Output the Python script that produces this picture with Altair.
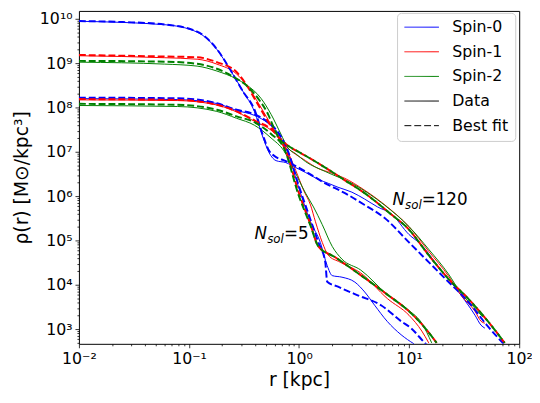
import altair as alt
import pandas as pd

# ---------------- values (log10 r [kpc], log10 rho [Msun/kpc^3]) ----------------
spin_names = ["Spin-0", "Spin-1", "Spin-2"]
spin_colors = ["blue", "red", "green"]
legend_keys = ["Spin-0", "Spin-1", "Spin-2", "Data", "Best fit"]

# N_sol = 120
n120_s0_fit_lr = [-2.0, -1.6, -1.221, -0.926, -0.747, -0.630, -0.508, -0.406, -0.329, -0.272, -0.227, -0.120, 0.059, 0.238, 0.417, 0.596, 0.775, 0.999, 1.178, 1.357, 1.536, 1.706, 1.868]
n120_s0_fit_lrho = [9.949, 9.927, 9.873, 9.711, 9.318, 8.873, 8.356, 7.956, 7.378, 7.022, 6.911, 6.789, 6.556, 6.289, 6.067, 5.800, 5.511, 4.956, 4.511, 4.067, 3.622, 3.089, 2.644]
n120_s0_dat_lr = [-2.0, -1.221, -0.926, -0.747, -0.630, -0.508, -0.406, -0.329, -0.272, -0.209, -0.120, -0.030, 0.059, 0.175, 0.265, 0.354, 0.480, 0.596, 0.713, 0.838, 0.999, 1.107, 1.268, 1.474, 1.599, 1.653, 1.688]
n120_s0_dat_lrho = [9.944, 9.867, 9.700, 9.311, 8.867, 8.356, 7.911, 7.333, 6.978, 6.800, 6.756, 6.644, 6.533, 6.378, 6.289, 6.200, 6.089, 5.933, 5.756, 5.600, 5.133, 4.911, 4.400, 3.756, 3.311, 3.089, 3.022]

n120_s1_fit_lr = [-2.0, -1.221, -0.926, -0.747, -0.568, -0.478, -0.389, -0.299, -0.209, -0.120, 0.059, 0.238, 0.417, 0.596, 0.820, 0.999, 1.178, 1.357, 1.536, 1.715, 1.868]
n120_s1_fit_lrho = [9.184, 9.149, 9.133, 9.022, 8.800, 8.511, 8.133, 7.756, 7.400, 7.178, 6.911, 6.644, 6.356, 6.067, 5.622, 5.244, 4.667, 4.133, 3.689, 3.178, 2.689]
n120_s1_dat_lr = [-2.0, -1.221, -0.926, -0.747, -0.568, -0.478, -0.389, -0.299, -0.209, -0.120, 0.059, 0.175, 0.283, 0.417, 0.596, 0.802, 0.999, 1.178, 1.357, 1.474, 1.599, 1.653, 1.688]
n120_s1_dat_lrho = [9.167, 9.122, 9.089, 8.978, 8.756, 8.511, 8.178, 7.800, 7.422, 7.133, 6.800, 6.622, 6.533, 6.400, 6.133, 5.756, 5.311, 4.756, 4.200, 3.756, 3.400, 3.178, 3.133]

n120_s2_fit_lr = [-2.0, -1.221, -0.926, -0.747, -0.594, -0.496, -0.371, -0.281, -0.227, -0.165, -0.120, 0.059, 0.238, 0.417, 0.596, 0.820, 0.999, 1.178, 1.357, 1.536, 1.715, 1.868]
n120_s2_fit_lrho = [9.051, 9.033, 8.984, 8.873, 8.689, 8.533, 8.200, 7.844, 7.533, 7.244, 7.167, 6.911, 6.644, 6.356, 6.067, 5.622, 5.244, 4.667, 4.133, 3.689, 3.178, 2.689]
n120_s2_dat_lr = [-2.0, -1.221, -0.926, -0.747, -0.568, -0.478, -0.344, -0.254, -0.165, -0.102, -0.030, 0.059, 0.238, 0.480, 0.775, 0.999, 1.178, 1.357, 1.474, 1.599, 1.671]
n120_s2_dat_lrho = [9.022, 8.978, 8.933, 8.822, 8.644, 8.511, 8.200, 7.844, 7.400, 7.089, 6.956, 6.778, 6.556, 6.289, 5.800, 5.311, 4.800, 4.244, 3.800, 3.467, 3.267]

# N_sol = 5
n5_s0_fit_lr = [-2.0, -1.105, -0.747, -0.568, -0.406, -0.281, -0.192, -0.102, -0.004, 0.104, 0.175, 0.238, 0.256, 0.354, 0.533, 0.748, 0.927, 1.017, 1.151, 1.200]
n5_s0_fit_lrho = [8.222, 8.207, 8.096, 7.949, 7.844, 7.667, 7.444, 7.022, 6.244, 5.467, 4.956, 4.511, 4.067, 3.956, 3.762, 3.533, 3.178, 3.022, 2.667, 2.560]
n5_s0_dat_lr = [-2.0, -1.105, -0.747, -0.568, -0.406, -0.281, -0.192, -0.102, -0.004, 0.104, 0.193, 0.256, 0.301, 0.390, 0.507, 0.596, 0.686, 0.802, 0.927, 1.044]
n5_s0_dat_lrho = [8.200, 8.178, 8.089, 7.933, 7.822, 7.644, 7.422, 6.978, 6.200, 5.422, 4.956, 4.429, 4.207, 4.171, 4.060, 3.838, 3.540, 3.171, 2.873, 2.667]

n5_s1_fit_lr = [-2.0, -1.105, -0.747, -0.568, -0.389, -0.254, -0.209, -0.120, -0.004, 0.104, 0.175, 0.328, 0.507, 0.802, 0.999, 1.115, 1.250]
n5_s1_fit_lrho = [8.189, 8.171, 8.060, 7.911, 7.689, 7.511, 7.400, 7.022, 6.089, 5.356, 4.867, 4.622, 4.311, 3.778, 3.400, 3.111, 2.689]
n5_s1_dat_lr = [-2.0, -1.105, -0.747, -0.568, -0.389, -0.254, -0.138, -0.030, 0.041, 0.104, 0.149, 0.211, 0.265, 0.372, 0.560, 0.802, 0.999, 1.115, 1.178]
n5_s1_dat_lrho = [8.171, 8.156, 8.056, 7.900, 7.667, 7.489, 7.178, 6.578, 6.133, 5.800, 5.422, 4.956, 4.667, 4.511, 4.267, 3.689, 3.311, 2.956, 2.689]

n5_s2_fit_lr = [-2.0, -1.105, -0.747, -0.568, -0.406, -0.254, -0.138, -0.004, 0.104, 0.175, 0.328, 0.507, 0.802, 0.999, 1.115, 1.250]
n5_s2_fit_lrho = [8.082, 8.060, 7.949, 7.800, 7.667, 7.400, 7.089, 6.022, 5.333, 4.867, 4.622, 4.311, 3.778, 3.400, 3.111, 2.689]
n5_s2_dat_lr = [-2.0, -1.105, -0.747, -0.568, -0.406, -0.254, -0.138, -0.057, 0.059, 0.131, 0.211, 0.301, 0.390, 0.560, 0.802, 0.999, 1.115, 1.205]
n5_s2_dat_lrho = [8.044, 8.022, 7.911, 7.756, 7.600, 7.311, 7.022, 6.644, 6.067, 5.756, 5.356, 4.867, 4.578, 4.333, 3.778, 3.422, 3.133, 2.689]

# annotations
annot_text = ["=5", "=120"]
annot_r = [0.728, 13.0]
annot_rho = [1.36e5, 8.15e5]

# axis ticks
x_major = [0.01, 0.1, 1, 10, 100]
y_major = [1e3, 1e4, 1e5, 1e6, 1e7, 1e8, 1e9, 1e10]
x_minor = [k * 10.0 ** e for e in (-2, -1, 0, 1) for k in range(2, 10)]
y_minor = [k * 10.0 ** e for e in range(2, 10) for k in range(2, 10) if k * 10.0 ** e >= 465]

# ---------------- table ----------------
series = [
    ("N120", "Spin-0", "Data", n120_s0_dat_lr, n120_s0_dat_lrho),
    ("N120", "Spin-1", "Data", n120_s1_dat_lr, n120_s1_dat_lrho),
    ("N120", "Spin-2", "Data", n120_s2_dat_lr, n120_s2_dat_lrho),
    ("N5", "Spin-0", "Data", n5_s0_dat_lr, n5_s0_dat_lrho),
    ("N5", "Spin-1", "Data", n5_s1_dat_lr, n5_s1_dat_lrho),
    ("N5", "Spin-2", "Data", n5_s2_dat_lr, n5_s2_dat_lrho),
    ("N120", "Spin-0", "Best fit", n120_s0_fit_lr, n120_s0_fit_lrho),
    ("N5", "Spin-0", "Best fit", n5_s0_fit_lr, n5_s0_fit_lrho),
    ("N120", "Spin-1", "Best fit", n120_s1_fit_lr, n120_s1_fit_lrho),
    ("N5", "Spin-1", "Best fit", n5_s1_fit_lr, n5_s1_fit_lrho),
    ("N120", "Spin-2", "Best fit", n120_s2_fit_lr, n120_s2_fit_lrho),
    ("N5", "Spin-2", "Best fit", n5_s2_fit_lr, n5_s2_fit_lrho),
]
rows = []
for si, (grp, spin, kind, lr, lrho) in enumerate(series):
    for i, (a, b) in enumerate(zip(lr, lrho)):
        rows.append({"r": 10 ** a, "rho": 10 ** b, "spin": spin, "kind": kind,
                     "sid": f"{si:02d}-{grp}-{spin}-{kind}", "i": i})
df = pd.DataFrame(rows)

leg_df = pd.DataFrame({"key": legend_keys, "r": [1.0] * 5, "rho": [1e14] * 5})
ann_df = pd.DataFrame({"label": annot_text, "r": annot_r, "rho": annot_rho})

# ---------------- scales / axes ----------------
xs = alt.Scale(type="log", domain=[0.01, 100], nice=False)
ys = alt.Scale(type="log", domain=[465, 1.507e10], nice=False)

s = "'' + round(log(datum.value) / LN10)"
for a, b in [("-", "⁻"), ("0", "⁰"), ("1", "¹"), ("2", "²"), ("3", "³"), ("4", "⁴"),
             ("5", "⁵"), ("6", "⁶"), ("7", "⁷"), ("8", "⁸"), ("9", "⁹")]:
    s = f"replace({s}, '{a}', '{b}')"
sup_expr = "'10' + " + s

FONT = "DejaVu Sans"
ax_x = alt.Axis(values=x_major, labelExpr=sup_expr, title="r [kpc]", tickSize=4, domain=False,
                grid=False, labelFontSize=16, titleFontSize=19, labelPadding=3, orient="bottom",
                labelFlush=False, labelOverlap=False)
ax_y = alt.Axis(values=y_major, labelExpr=sup_expr, title="ρ(r) [M⊙/kpc³]", tickSize=4,
                domain=False, grid=False, labelFontSize=16, titleFontSize=19, labelPadding=3,
                titlePadding=8, orient="left", labelFlush=False, labelOverlap=False)
ax_xm = alt.Axis(values=x_minor, labels=False, tickSize=2, domain=False, grid=False, title=None,
                 orient="bottom")
ax_ym = alt.Axis(values=y_minor, labels=False, tickSize=2, domain=False, grid=False, title=None,
                 orient="left")

stroke_enc = alt.Stroke("spin:N", scale=alt.Scale(domain=spin_names, range=spin_colors), legend=None)

data_layer = alt.Chart(df).transform_filter(alt.datum.kind == "Data").mark_line(
    strokeWidth=1, clip=True, interpolate="monotone"
).encode(
    x=alt.X("r:Q", scale=xs, axis=ax_x),
    y=alt.Y("rho:Q", scale=ys, axis=ax_y),
    stroke=stroke_enc,
    detail="sid:N",
    order="i:Q",
)
fit_layer = alt.Chart(df).transform_filter(alt.datum.kind == "Best fit").mark_line(
    strokeWidth=2, strokeDash=[7, 3], clip=True, interpolate="monotone"
).encode(
    x=alt.X("r:Q", scale=xs, axis=ax_x),
    y=alt.Y("rho:Q", scale=ys, axis=ax_y),
    stroke=stroke_enc,
    detail="sid:N",
    order="i:Q",
)
lines = alt.layer(data_layer, fit_layer)

legend = alt.Legend(title=None, orient="none", legendX=323, legendY=2, fillColor="white",
                    strokeColor="#cccccc", cornerRadius=4, padding=7, labelFontSize=16,
                    labelFont=FONT, symbolType="stroke", symbolSize=1225, clipHeight=15,
                    rowPadding=8, labelOffset=13, labelColor="black")
legend_layer = alt.Chart(leg_df).mark_line(clip=True).encode(
    x=alt.X("r:Q", scale=xs, axis=ax_xm),
    y=alt.Y("rho:Q", scale=ys, axis=ax_ym),
    color=alt.Color("key:N", scale=alt.Scale(domain=legend_keys,
                                             range=["blue", "red", "green", "black", "black"]),
                    legend=legend),
    strokeDash=alt.StrokeDash("key:N", scale=alt.Scale(domain=legend_keys,
                                                       range=[[1, 0], [1, 0], [1, 0], [1, 0], [7, 3]]),
                              legend=legend),
    strokeWidth=alt.StrokeWidth("key:N", scale=alt.Scale(domain=legend_keys, range=[1, 1, 1, 2, 2]),
                                legend=legend),
)

ann_base = alt.Chart(ann_df).encode(
    x=alt.X("r:Q", scale=xs, axis=None),
    y=alt.Y("rho:Q", scale=ys, axis=None),
)
ann_n = ann_base.mark_text(text="N", font=FONT, fontStyle="italic", fontSize=17, align="right",
                           baseline="middle", dx=-17, color="black")
ann_sol = ann_base.mark_text(text="sol", font=FONT, fontStyle="italic", fontSize=12, align="right",
                             baseline="middle", dy=5, color="black")
ann_eq = ann_base.mark_text(font=FONT, fontSize=17, align="left", baseline="middle",
                            color="black").encode(text="label:N")

chart = alt.layer(lines, legend_layer, ann_n, ann_sol, ann_eq).resolve_axis(
    x="independent", y="independent"
).properties(
    width=447, height=338,
    autosize=alt.AutoSizeParams(type="none"),
    padding={"left": 72, "top": 0, "right": 13, "bottom": 50},
).configure_view(stroke="black", strokeWidth=1).configure_axis(
    labelFont=FONT, titleFont=FONT, labelColor="black", titleColor="black", tickColor="black",
    tickWidth=0.8, titleFontWeight="normal"
)

chart.save("out.html", embed_options={"renderer": "svg", "actions": False})
